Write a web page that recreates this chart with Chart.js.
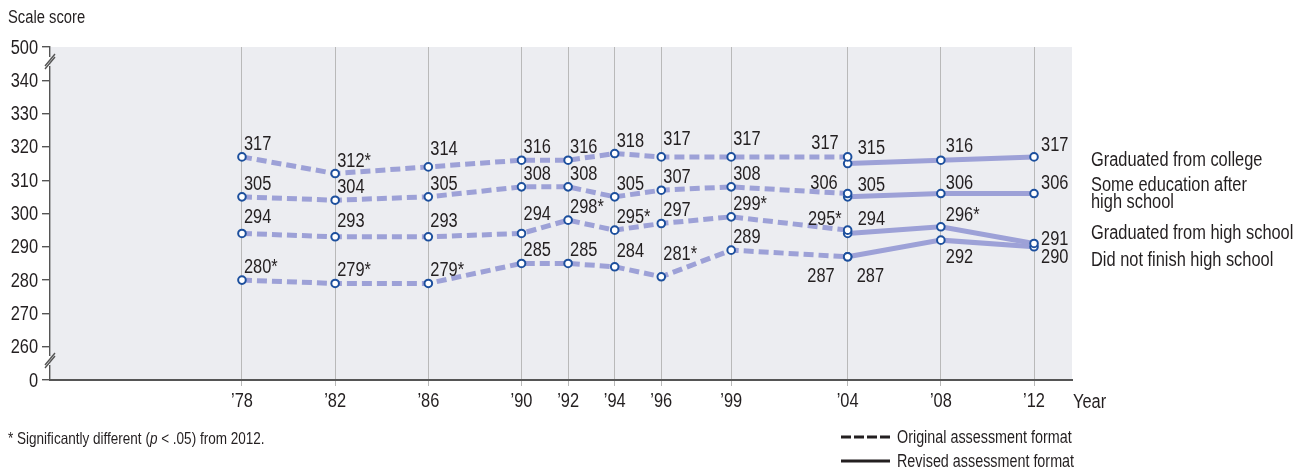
<!DOCTYPE html>
<html>
<head>
<meta charset="utf-8">
<script src="https://cdn.jsdelivr.net/npm/chart.js@4/dist/chart.umd.min.js"></script>
<style>
  html, body { margin: 0; padding: 0; background: #ffffff; }
  #wrap { width: 1304px; height: 474px; position: relative; }
</style>
</head>
<body>
<div id="wrap"><canvas id="c" width="1304" height="474"></canvas></div>
<script>
// ---- Data ----
const originalYears = [1978, 1982, 1986, 1990, 1992, 1994, 1996, 1999, 2004];
const revisedYears = [2004, 2008, 2012];
const tickYears = [1978, 1982, 1986, 1990, 1992, 1994, 1996, 1999, 2004, 2008, 2012];
const tickYearLabels = ["\u201978", "\u201982", "\u201986", "\u201990", "\u201992", "\u201994", "\u201996", "\u201999", "\u201904", "\u201908", "\u201912"];

const collegeOriginal = [317, 312, 314, 316, 316, 318, 317, 317, 317];
const collegeOriginalSig = [false, true, false, false, false, false, false, false, false];
const collegeRevised = [315, 316, 317];
const collegeRevisedSig = [false, false, false];

const someEdOriginal = [305, 304, 305, 308, 308, 305, 307, 308, 306];
const someEdOriginalSig = [false, false, false, false, false, false, false, false, false];
const someEdRevised = [305, 306, 306];
const someEdRevisedSig = [false, false, false];

const hsOriginal = [294, 293, 293, 294, 298, 295, 297, 299, 295];
const hsOriginalSig = [false, false, false, false, true, true, false, true, true];
const hsRevised = [294, 296, 291];
const hsRevisedSig = [false, true, false];

const dnfOriginal = [280, 279, 279, 285, 285, 284, 281, 289, 287];
const dnfOriginalSig = [true, true, true, false, false, false, true, false, false];
const dnfRevised = [287, 292, 290];
const dnfRevisedSig = [false, false, false];

const seriesNames = ["Graduated from college", "Some education after|high school", "Graduated from high school", "Did not finish high school"];
const yTickValues = [250, 260, 270, 280, 290, 300, 310, 320, 330, 340, 350];
const yTickLabels = ["0", "260", "270", "280", "290", "300", "310", "320", "330", "340", "500"];

// ---- Styles ----
const LINE = '#9da1d7';
const POINT = '#1c4f9d';
const TXT = '#231f20';
const FONT = '"Liberation Sans", Arial, sans-serif';
const SX = 0.82; // horizontal condensing of text

function txt(ctx, t, x, y, size, align, italic) {
  ctx.save();
  ctx.font = (italic ? 'italic ' : '') + size + 'px ' + FONT;
  ctx.textAlign = align || 'left';
  ctx.translate(x, y);
  ctx.scale(SX, 1);
  ctx.fillText(t, 0, 0);
  const w = ctx.measureText(t).width * SX;
  ctx.restore();
  return w;
}

function pts(xs, ys) { return xs.map((x, i) => ({ x: x, y: ys[i] })); }

function mkDs(key, xs, ys, sig, dashed) {
  return {
    key: key,
    sig: sig,
    data: pts(xs, ys),
    borderColor: LINE,
    borderWidth: 5,
    borderDash: dashed ? [10, 5] : [],
    borderCapStyle: 'butt',
    pointRadius: 3.8,
    pointHoverRadius: 3.8,
    pointBorderWidth: 2,
    pointBorderColor: POINT,
    pointBackgroundColor: '#ffffff',
    tension: 0,
    fill: false
  };
}

const datasets = [
  mkDs('colO', originalYears, collegeOriginal, collegeOriginalSig, true),
  mkDs('someO', originalYears, someEdOriginal, someEdOriginalSig, true),
  mkDs('hsO', originalYears, hsOriginal, hsOriginalSig, true),
  mkDs('dnfO', originalYears, dnfOriginal, dnfOriginalSig, true),
  mkDs('colR', revisedYears, collegeRevised, collegeRevisedSig, false),
  mkDs('someR', revisedYears, someEdRevised, someEdRevisedSig, false),
  mkDs('hsR', revisedYears, hsRevised, hsRevisedSig, false),
  mkDs('dnfR', revisedYears, dnfRevised, dnfRevisedSig, false)
];

// label nudges relative to each point (layout only)
const labelNudge = {
  'colO:2': { dy: -12 }, 'colO:6': { dy: -12 }, 'colO:7': { dy: -12 },
  'colO:8': { dx: -9, dy: -8, align: 'right' },
  'someO:8': { dx: -10, dy: -5, align: 'right' },
  'hsO:0': { dy: -10 }, 'hsO:1': { dy: -10 }, 'hsO:2': { dy: -10 }, 'hsO:3': { dy: -13 },
  'hsO:8': { dx: -6, dy: -5, align: 'right' },
  'dnfO:5': { dy: -10 }, 'dnfO:6': { dy: -17 },
  'dnfO:8': { dx: -13, dy: 11, align: 'right', base: 'top' },
  'colR:0': { dx: 10, dy: -10 }, 'colR:1': { dx: 5, dy: -8 }, 'colR:2': { dx: 7, dy: -6 },
  'someR:0': { dx: 10, dy: -6 }, 'someR:1': { dx: 5, dy: -5 }, 'someR:2': { dx: 7, dy: -5 },
  'hsR:0': { dx: 10, dy: -8 }, 'hsR:1': { dx: 5, dy: -6 }, 'hsR:2': { dx: 7, dy: 2 },
  'dnfR:0': { dx: 9, dy: 11, base: 'top' }, 'dnfR:1': { dx: 5, dy: 8, base: 'top' }, 'dnfR:2': { dx: 7, dy: 2, base: 'top' }
};

const decorPlugin = {
  id: 'decor',
  beforeDraw(chart) {
    const { ctx, chartArea: a } = chart;
    ctx.save();
    ctx.fillStyle = '#ecedf1';
    ctx.fillRect(a.left, a.top, a.right - a.left, a.bottom - a.top);
    ctx.restore();
  },
  afterDatasetsDraw(chart) {
    const ctx = chart.ctx;
    ctx.save();
    ctx.fillStyle = TXT;
    ctx.textBaseline = 'alphabetic';
    chart.data.datasets.forEach((ds, di) => {
      const meta = chart.getDatasetMeta(di);
      meta.data.forEach((pt, i) => {
        const n = Object.assign({ dx: 2, dy: -7, align: 'left', base: 'bottom' }, labelNudge[ds.key + ':' + i] || {});
        const t = String(ds.data[i].y) + (ds.sig[i] ? '*' : '');
        let y = pt.y + n.dy;
        if (n.base === 'top') y += 14.5;
        txt(ctx, t, pt.x + n.dx, y, 20, n.align);
      });
    });
    ctx.restore();
  },
  afterDraw(chart) {
    const { ctx, chartArea: a } = chart;
    const ax = a.left;
    ctx.save();
    // axis breaks
    function brk(y1, y2) {
      ctx.fillStyle = '#ffffff';
      ctx.fillRect(ax - 2, y1, 2.2, y2 - y1);
      ctx.fillStyle = '#ecedf1';
      ctx.fillRect(ax + 0.2, y1, 2.5, y2 - y1);
      ctx.strokeStyle = '#555';
      ctx.lineWidth = 1.4;
      ctx.beginPath();
      ctx.moveTo(ax - 5, y2 + 3); ctx.lineTo(ax + 5, y2 - 9);
      ctx.moveTo(ax - 5, y1 + 9); ctx.lineTo(ax + 5, y1 - 3);
      ctx.stroke();
    }
    brk(57, 66);
    brk(356, 365);

    ctx.fillStyle = TXT;
    ctx.textBaseline = 'middle';
    // y tick labels
    const ys = chart.scales.y;
    yTickValues.forEach((v, i) => txt(ctx, yTickLabels[i], ax - 12, ys.getPixelForValue(v) + 1, 20, 'right'));
    // x tick labels
    const xs = chart.scales.x;
    tickYears.forEach((v, i) => txt(ctx, tickYearLabels[i], xs.getPixelForValue(v), 401, 20, 'center'));

    ctx.textBaseline = 'alphabetic';
    txt(ctx, 'Scale score', 8, 23, 18, 'left');
    txt(ctx, 'Year', a.right + 1, 408, 20, 'left');

    // series names
    const nameBaselines = [[166], [191], [208], [239], [266]];
    let k = 0;
    seriesNames.forEach((nm) => {
      nm.split('|').forEach((line) => { txt(ctx, line, 1091, nameBaselines[k][0], 20, 'left'); k++; });
    });

    // footnote
    let x = 8;
    const parts = [['* Significantly different (', false], ['p', true], [' < .05) from 2012.', false]];
    parts.forEach(([t, it]) => { x += txt(ctx, t, x, 444, 16.5, 'left', it); });

    // legend
    ctx.strokeStyle = '#231f20';
    ctx.lineWidth = 3;
    ctx.setLineDash([10, 3]);
    ctx.beginPath(); ctx.moveTo(841, 437); ctx.lineTo(890, 437); ctx.stroke();
    ctx.setLineDash([]);
    ctx.beginPath(); ctx.moveTo(841, 461); ctx.lineTo(890, 461); ctx.stroke();
    txt(ctx, 'Original assessment format', 897, 443, 17.5, 'left');
    txt(ctx, 'Revised assessment format', 897, 467, 17.5, 'left');
    ctx.restore();
  }
};

new Chart(document.getElementById('c'), {
  type: 'line',
  data: { datasets: datasets },
  plugins: [decorPlugin],
  options: {
    responsive: false,
    animation: false,
    events: [],
    layout: { padding: { top: 47, right: 232, bottom: 64, left: 0 } },
    plugins: { legend: { display: false }, tooltip: { enabled: false } },
    scales: {
      x: {
        type: 'linear',
        min: 1969.76,
        max: 2013.63,
        afterBuildTicks(scale) { scale.ticks = tickYears.map(v => ({ value: v })); },
        afterFit(scale) { scale.height = 30; },
        grid: { color: '#b9b9b9', lineWidth: 1, tickLength: 6, drawOnChartArea: true },
        border: { display: true, color: '#555555', width: 2 },
        ticks: { display: false }
      },
      y: {
        type: 'linear',
        min: 250,
        max: 350,
        afterBuildTicks(scale) { scale.ticks = yTickValues.map(v => ({ value: v })); },
        afterFit(scale) { scale.width = 50; },
        grid: { drawOnChartArea: false, color: '#555555', lineWidth: 1.4, tickLength: 8 },
        border: { display: true, color: '#555555', width: 1.4 },
        ticks: { display: false }
      }
    }
  }
});
</script>
</body>
</html>
